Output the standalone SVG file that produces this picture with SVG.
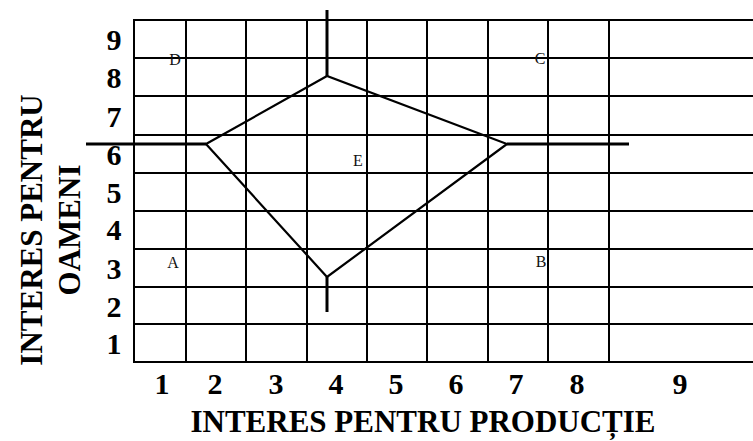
<svg xmlns="http://www.w3.org/2000/svg" width="753" height="441" viewBox="0 0 753 441">
<style>
.grid{stroke:#000;stroke-width:2;fill:none}
.shape{stroke:#000;stroke-width:2.2;fill:none;stroke-linejoin:miter}
.bar{stroke:#000;stroke-width:3;fill:none}
.num{font-family:"Liberation Serif","Times New Roman",serif;font-weight:bold;font-size:30px;fill:#000;text-anchor:middle}
.title{font-family:"Liberation Serif","Times New Roman",serif;font-weight:bold;font-size:31px;fill:#000;text-anchor:middle}
.pt{font-family:"Liberation Serif","Times New Roman",serif;font-size:16px;fill:#111;text-anchor:middle}
</style>
<rect width="753" height="441" fill="#fff"/>
<g id="grid" class="grid">
<line x1="134" y1="20" x2="753" y2="20"/>
<line x1="134" y1="58" x2="753" y2="58"/>
<line x1="134" y1="96" x2="753" y2="96"/>
<line x1="134" y1="135" x2="753" y2="135"/>
<line x1="134" y1="173" x2="753" y2="173"/>
<line x1="134" y1="211" x2="753" y2="211"/>
<line x1="134" y1="249" x2="753" y2="249"/>
<line x1="134" y1="287" x2="753" y2="287"/>
<line x1="134" y1="324" x2="753" y2="324"/>
<line x1="134" y1="362" x2="753" y2="362"/>
<line x1="134" y1="19" x2="134" y2="363"/>
<line x1="186" y1="19" x2="186" y2="363"/>
<line x1="246" y1="19" x2="246" y2="363"/>
<line x1="307" y1="19" x2="307" y2="363"/>
<line x1="367" y1="19" x2="367" y2="363"/>
<line x1="427" y1="19" x2="427" y2="363"/>
<line x1="488" y1="19" x2="488" y2="363"/>
<line x1="548" y1="19" x2="548" y2="363"/>
<line x1="609" y1="19" x2="609" y2="363"/>
</g>
<g id="connectors">
<polygon class="shape" points="206,144 327,76 507,144 327,277"/>
<line class="bar" x1="327" y1="10" x2="327" y2="76"/>
<line class="bar" x1="86" y1="144" x2="206" y2="144"/>
<line class="bar" x1="507" y1="144" x2="629" y2="144"/>
<line class="bar" x1="327" y1="277" x2="327" y2="312"/>
</g>
<g id="points">
<text id="pD" class="pt" x="175" y="65">D</text>
<text id="pC" class="pt" x="540" y="64">C</text>
<text id="pE" class="pt" x="358" y="166">E</text>
<text id="pA" class="pt" x="173" y="268">A</text>
<text id="pB" class="pt" x="541" y="267">B</text>
</g>
<g id="y-axis">
<text class="num" x="114" y="50">9</text>
<text class="num" x="114" y="88">8</text>
<text class="num" x="114" y="127">7</text>
<text class="num" x="114" y="165">6</text>
<text class="num" x="114" y="203">5</text>
<text class="num" x="114" y="240">4</text>
<text class="num" x="114" y="279">3</text>
<text class="num" x="114" y="317">2</text>
<text class="num" x="114" y="354">1</text>
<text class="title" transform="translate(42,230) rotate(-90)">INTERES PENTRU</text>
<text class="title" transform="translate(80,230) rotate(-90)">OAMENI</text>
</g>
<g id="x-axis">
<text class="num" x="162" y="394">1</text>
<text class="num" x="215" y="394">2</text>
<text class="num" x="276" y="394">3</text>
<text class="num" x="336" y="394">4</text>
<text class="num" x="396" y="394">5</text>
<text class="num" x="456" y="394">6</text>
<text class="num" x="516" y="394">7</text>
<text class="num" x="577" y="394">8</text>
<text class="num" x="680" y="394">9</text>
<text class="title" x="423" y="432">INTERES PENTRU PRODUCȚIE</text>
</g>
</svg>
